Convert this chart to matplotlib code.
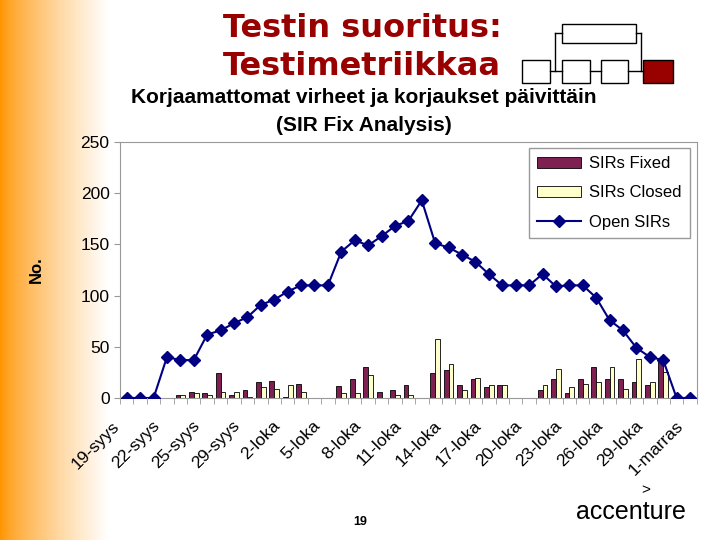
import numpy as np
import matplotlib
matplotlib.use("Agg")
import matplotlib.pyplot as plt
import matplotlib.transforms as mtransforms
from matplotlib.patches import Rectangle

plt.rcParams['font.family'] = ['Liberation Sans', 'DejaVu Sans']

# Dates (categories), one per recorded day
dates = (['19-syys', '20-syys', '21-syys', '22-syys', '23-syys', '24-syys', '25-syys',
          '26-syys', '27-syys', '29-syys', '30-syys']
         + ['%d-loka' % d for d in range(1, 32)]
         + ['1-marras'])

sirs_fixed = [0, 0, 0, 0, 3, 6, 5, 24, 3, 8, 16, 17, 1, 14, 0, 0, 12, 19, 30, 6, 8, 13,
              0, 24, 27, 13, 19, 11, 13, 0, 0, 8, 19, 5, 19, 30, 19, 19, 16, 13, 35, 0, 0]
sirs_closed = [0, 0, 0, 0, 3, 5, 3, 6, 6, 1, 11, 9, 13, 6, 0, 0, 5, 5, 22, 0, 3, 3,
               0, 58, 33, 8, 20, 13, 13, 0, 0, 13, 28, 11, 14, 16, 30, 9, 38, 16, 25, 0, 0]
open_sirs = [0, 0, 0, 40, 37, 37, 62, 66, 73, 79, 91, 96, 104, 110, 110, 110, 143, 154,
             149, 158, 168, 173, 193, 151, 147, 140, 133, 121, 110, 110, 110, 121, 109,
             110, 110, 98, 76, 66, 49, 40, 37, 0, 0]

fig = plt.figure(figsize=(7.2, 5.4), dpi=100)

# orange fade on the left edge
bg = fig.add_axes([0, 0, 1, 1], zorder=-10)
grad = np.linspace(0, 1, 720)
fade = np.clip(grad / 0.15, 0, 1) ** 0.75
img = np.ones((1, 720, 3))
img[0, :, 0] = 1.0
img[0, :, 1] = 0.58 + 0.42 * fade
img[0, :, 2] = 0.0 + 1.0 * fade
bg.imshow(img, aspect='auto', extent=[0, 720, 0, 540])
bg.set_xlim(0, 720)
bg.set_ylim(540, 0)
bg.axis('off')

# slide title
fig.text(0.503, 0.9315, 'Testin suoritus:', ha='center', va='baseline', fontsize=23,
         fontweight='bold', color='#990000', family='DejaVu Sans')
fig.text(0.503, 0.861, 'Testimetriikkaa', ha='center', va='baseline', fontsize=23,
         fontweight='bold', color='#990000', family='DejaVu Sans')

# small flowchart icon
for x0, y0, w, h, fc in [(562, 24, 74, 19, 'white'), (522, 60, 28, 23, 'white'),
                         (562, 60, 28, 23, 'white'), (601, 60, 27, 23, 'white'),
                         (643, 60, 30, 23, '#990000')]:
    bg.add_patch(Rectangle((x0, y0), w, h, facecolor=fc, edgecolor='black', lw=1))
bg.plot([555, 562], [33, 33], color='black', lw=1)
bg.plot([636, 641], [33, 33], color='black', lw=1)
bg.plot([555, 555], [33, 71], color='black', lw=1)
bg.plot([641, 641], [33, 71], color='black', lw=1)
bg.plot([550, 562], [71, 71], color='black', lw=1)
bg.plot([590, 601], [71, 71], color='black', lw=1)
bg.plot([628, 643], [71, 71], color='black', lw=1)

# chart title
fig.text(0.505, 0.820, 'Korjaamattomat virheet ja korjaukset päivittäin', ha='center',
         va='center', fontsize=15, fontweight='bold')
fig.text(0.505, 0.768, '(SIR Fix Analysis)', ha='center', va='center', fontsize=15,
         fontweight='bold')

# footer
fig.text(0.5, 0.033, '19', ha='center', va='center', fontsize=9, fontweight='bold')
fig.text(0.876, 0.052, 'accenture', ha='center', va='center', fontsize=18)
fig.text(0.897, 0.093, '>', ha='center', va='center', fontsize=11)

ax = fig.add_axes([0.1667, 0.263, 0.801, 0.474])
x = np.arange(len(dates))
w = 0.36
b1 = ax.bar(x - w / 2, sirs_fixed, width=w, color='#7f2052', edgecolor='black', lw=0.6,
            label='SIRs Fixed', zorder=2)
b2 = ax.bar(x + w / 2, sirs_closed, width=w, color='#ffffcc', edgecolor='black', lw=0.6,
            label='SIRs Closed', zorder=2)
l1, = ax.plot(x, open_sirs, color='#000080', lw=1.5, marker='D', markersize=6.5,
              label='Open SIRs', zorder=3)

ax.set_xlim(-0.5, len(dates) - 0.5)
ax.set_ylim(0, 250)
ax.set_yticks(range(0, 251, 50))
ax.set_xticks(x[::3])
ax.set_xticks(np.arange(-0.5, len(dates), 1), minor=True)
ax.tick_params(axis='x', which='major', length=0, pad=6)
ax.tick_params(axis='x', which='minor', length=4, color='#999999')
ax.tick_params(axis='y', labelsize=12.5, color='#999999', length=4)
ax.set_xticklabels(dates[::3], rotation=45, ha='right', rotation_mode='anchor',
                   fontsize=12.5)
# nudge the date labels down-left, like the original
shift = mtransforms.ScaledTranslation(-15 / 100, -12 / 100, fig.dpi_scale_trans)
for lbl in ax.get_xticklabels():
    lbl.set_transform(lbl.get_transform() + shift)
ax.set_ylabel('No.', fontsize=12, fontweight='bold', labelpad=26)
for s in ax.spines.values():
    s.set_color('#999999')
ax.patch.set_alpha(0)

leg = ax.legend([b1, b2, l1], ['SIRs Fixed', 'SIRs Closed', 'Open SIRs'],
                loc='upper right', bbox_to_anchor=(0.988, 0.977), borderaxespad=0,
                fontsize=12, labelspacing=0.85, handlelength=2.6, handletextpad=0.5,
                fancybox=False, framealpha=1, edgecolor='#999999', borderpad=0.5)

fig.savefig('out.png', dpi=100)
